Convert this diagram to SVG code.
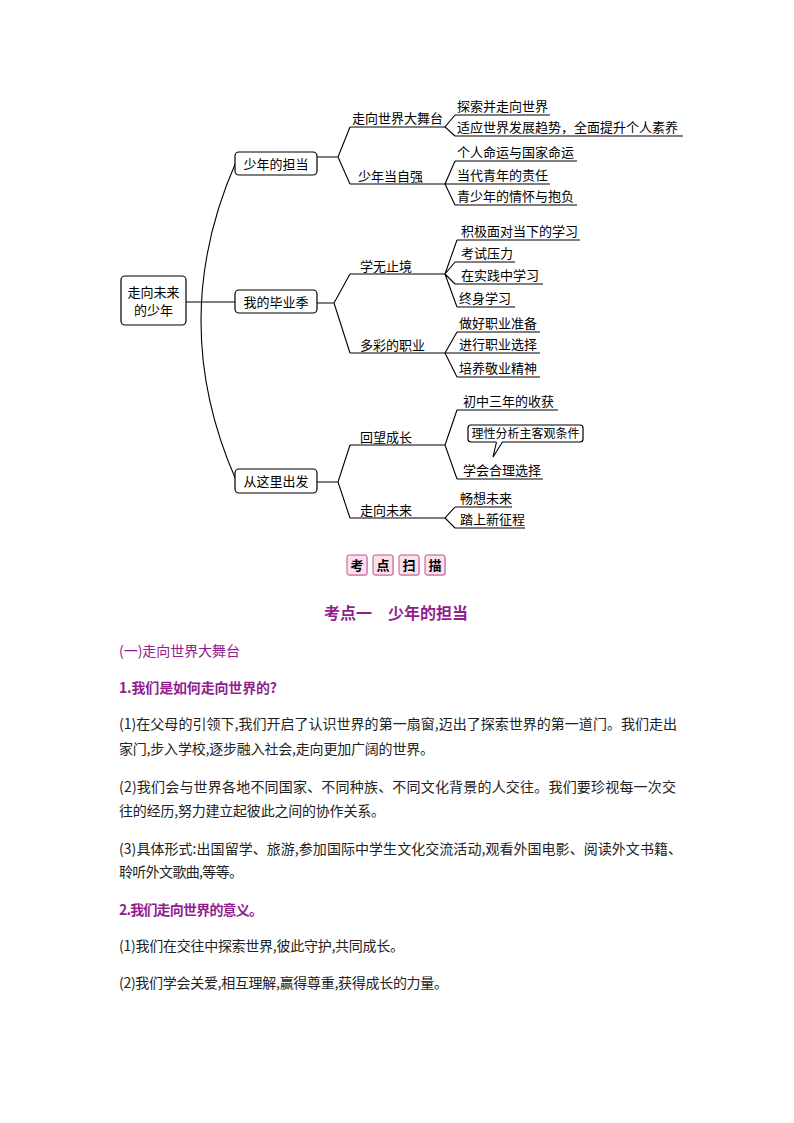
<svg xmlns="http://www.w3.org/2000/svg" width="794" height="1123" viewBox="0 0 794 1123">
<style>
text{font-family:"Noto Sans CJK SC","Noto Sans",sans-serif;fill:#000}
.n{font-size:13px}
.box{fill:#fff;stroke:#000;stroke-width:1.2}
.ln{fill:none;stroke:#000;stroke-width:1.1}
.btn{fill:#fbe1ed;stroke:#c2558e;stroke-width:1}
.bt{font-size:13px;font-weight:bold;text-anchor:middle}
.p{font-size:14px;fill:#222}
.h{font-size:14px;fill:#931d8f}
</style>
<rect width="794" height="1123" fill="#fff"/>
<g id="connectors">
<path class="ln" d="M236,162 Q166,321 236,480"/>
<path class="ln" d="M186,302 H235"/>
<path class="ln" d="M317,157 H338 M350,127 L338,157 L350,184 M350,127 H445 M350,184 H445"/>
<path class="ln" d="M317,303 H334 M350,274 L334,303 L350,353 M350,274 H445 M350,353 H445"/>
<path class="ln" d="M317,482 H338 M350,445 L338,482 L350,518 M350,445 H445 M350,518 H445"/>
<path class="ln" d="M455,115 L445,127 L455,136 M455,115 H550 M455,136 H683"/>
<path class="ln" d="M455,161 L445,184 L455,205 M455,161 H577 M445,184 H550 M455,205 H577"/>
<path class="ln" d="M457,240 L445,274 L457,307 M445,274 L455,262 M445,274 L455,284 M457,240 H580 M455,262 H515 M455,284 H543 M457,307 H515"/>
<path class="ln" d="M457,332 L445,353 L457,377 M457,332 H540 M445,353 H540 M457,377 H540"/>
<path class="ln" d="M457,410 L445,445 L457,479 M457,410 H558 M457,479 H543"/>
<path class="ln" d="M455,507 L445,518 L455,528 M455,507 H512 M455,528 H525"/>
</g>
<g id="root"><rect class="box" x="121" y="276" width="65" height="49" rx="4"/><text class="n" x="153.5" y="297" text-anchor="middle">走向未来</text><text class="n" x="153.5" y="315" text-anchor="middle">的少年</text></g>
<g id="n1"><rect class="box" x="235" y="152" width="82" height="23" rx="4"/><text class="n" x="276" y="169" text-anchor="middle">少年的担当</text></g>
<g id="n2"><rect class="box" x="235" y="290" width="82" height="23" rx="4"/><text class="n" x="276" y="306.5" text-anchor="middle">我的毕业季</text></g>
<g id="n3"><rect class="box" x="235" y="469" width="82" height="24" rx="4"/><text class="n" x="276" y="486" text-anchor="middle">从这里出发</text></g>
<g id="n1a"><text class="n" x="352" y="123">走向世界大舞台</text></g>
<g id="n1b"><text class="n" x="358" y="181">少年当自强</text></g>
<g id="n2a"><text class="n" x="360" y="271">学无止境</text></g>
<g id="n2b"><text class="n" x="360" y="350">多彩的职业</text></g>
<g id="n3a"><text class="n" x="360" y="442">回望成长</text></g>
<g id="n3b"><text class="n" x="360" y="515">走向未来</text></g>
<g id="l1"><text class="n" x="457" y="111">探索并走向世界</text></g>
<g id="l2"><text class="n" x="457" y="132">适应世界发展趋势，全面提升个人素养</text></g>
<g id="l3"><text class="n" x="457" y="157">个人命运与国家命运</text></g>
<g id="l4"><text class="n" x="457" y="180">当代青年的责任</text></g>
<g id="l5"><text class="n" x="457" y="201">青少年的情怀与抱负</text></g>
<g id="l6"><text class="n" x="461" y="236">积极面对当下的学习</text></g>
<g id="l7"><text class="n" x="461" y="258">考试压力</text></g>
<g id="l8"><text class="n" x="461" y="280">在实践中学习</text></g>
<g id="l9"><text class="n" x="459" y="303">终身学习</text></g>
<g id="l10"><text class="n" x="459" y="328">做好职业准备</text></g>
<g id="l11"><text class="n" x="459" y="349">进行职业选择</text></g>
<g id="l12"><text class="n" x="459" y="373">培养敬业精神</text></g>
<g id="l13"><text class="n" x="463" y="406">初中三年的收获</text></g>
<g id="l14"><text class="n" x="463" y="475">学会合理选择</text></g>
<g id="l15"><text class="n" x="460" y="503">畅想未来</text></g>
<g id="l16"><text class="n" x="460" y="524">踏上新征程</text></g>
<g id="callout">
<rect class="box" x="468" y="425" width="115" height="17" rx="3"/>
<polygon points="496.5,441 493,457 502.5,441" fill="#fff"/>
<polyline class="ln" points="496.5,442 493,457 502.5,442"/>
<text x="525.5" y="438" font-size="12" text-anchor="middle">理性分析主客观条件</text>
</g>
<g id="scan">
<rect x="348" y="556" width="20" height="20" rx="2" fill="#d8d8d8"/>
<rect x="374" y="556" width="20" height="20" rx="2" fill="#d8d8d8"/>
<rect x="400" y="556" width="20" height="20" rx="2" fill="#d8d8d8"/>
<rect x="426" y="556" width="20" height="20" rx="2" fill="#d8d8d8"/>
<rect class="btn" x="347" y="555" width="20" height="20" rx="2"/>
<rect class="btn" x="373" y="555" width="20" height="20" rx="2"/>
<rect class="btn" x="399" y="555" width="20" height="20" rx="2"/>
<rect class="btn" x="425" y="555" width="20" height="20" rx="2"/>
<text class="bt" x="357" y="570">考</text>
<text class="bt" x="383" y="570">点</text>
<text class="bt" x="409" y="570">扫</text>
<text class="bt" x="435" y="570">描</text>
</g>
<text x="324" y="619" font-size="16" font-weight="bold" fill="#931d8f" style="fill:#931d8f" textLength="144">考点一　少年的担当</text>
<text class="h" x="119" y="656" textLength="121">(一)走向世界大舞台</text>
<text class="h" x="119" y="693" font-weight="bold" textLength="158">1.我们是如何走向世界的?</text>
<text class="p" x="119" y="729" textLength="558">(1)在父母的引领下,我们开启了认识世界的第一扇窗,迈出了探索世界的第一道门。我们走出</text>
<text class="p" x="119" y="754" textLength="315">家门,步入学校,逐步融入社会,走向更加广阔的世界。</text>
<text class="p" x="119" y="792" textLength="557">(2)我们会与世界各地不同国家、不同种族、不同文化背景的人交往。我们要珍视每一次交</text>
<text class="p" x="119" y="816" textLength="266">往的经历,努力建立起彼此之间的协作关系。</text>
<text class="p" x="119" y="854" textLength="563">(3)具体形式:出国留学、旅游,参加国际中学生文化交流活动,观看外国电影、阅读外文书籍、</text>
<text class="p" x="119" y="877" textLength="124">聆听外文歌曲,等等。</text>
<text class="h" x="119" y="915" font-weight="bold" textLength="144">2.我们走向世界的意义。</text>
<text class="p" x="119" y="951" textLength="285">(1)我们在交往中探索世界,彼此守护,共同成长。</text>
<text class="p" x="119" y="988" textLength="329">(2)我们学会关爱,相互理解,赢得尊重,获得成长的力量。</text>
</svg>
